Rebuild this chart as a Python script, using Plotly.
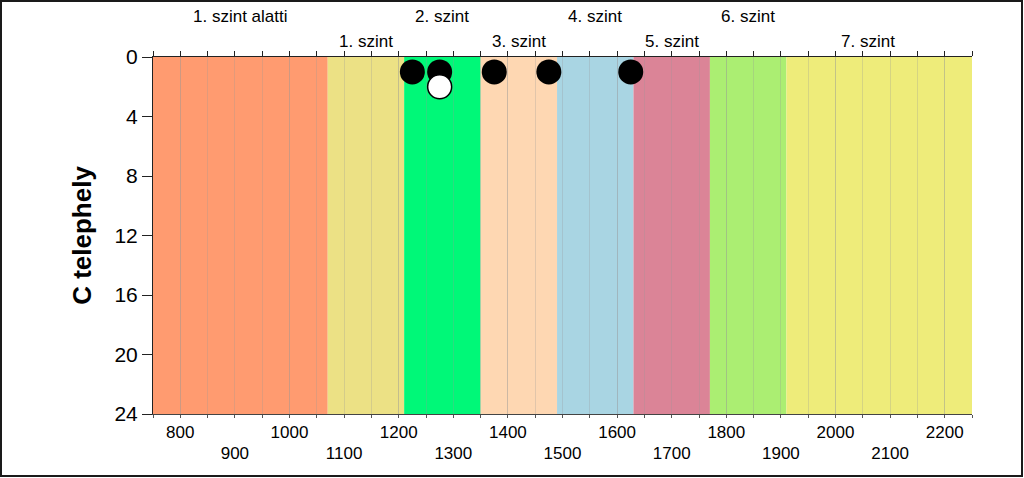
import plotly.graph_objects as go

# ---- data ----
band_edges = [750, 1070, 1210, 1350, 1490, 1630, 1770, 1910, 2250]
band_labels = ["1. szint alatti", "1. szint", "2. szint", "3. szint",
               "4. szint", "5. szint", "6. szint", "7. szint"]
band_label_x = [910, 1140, 1280, 1420, 1560, 1700, 1840, 2060]
band_colors = ["#FF9B70", "#ECE185", "#00F878", "#FED7B2",
               "#A9D5E3", "#DB8497", "#ABEE72", "#EEEC7A"]

black_x = [1225, 1275, 1375, 1475, 1625]
black_y = [1, 1, 1, 1, 1]
white_x = [1275]
white_y = [2]

x_range = [750, 2250]
y_range = [24, 0]
ticks_row1 = [800, 1000, 1200, 1400, 1600, 1800, 2000, 2200]
ticks_row2 = [900, 1100, 1300, 1500, 1700, 1900, 2100]
y_ticks = [0, 4, 8, 12, 16, 20, 24]
y_title = "C telephely"

FONT = "Liberation Sans, Arial, sans-serif"

fig = go.Figure()

# bands
for i, col in enumerate(band_colors):
    fig.add_shape(type="rect", xref="x", yref="y",
                  x0=band_edges[i], x1=band_edges[i + 1],
                  y0=y_range[0], y1=y_range[1],
                  fillcolor=col, line_width=0, layer="below")

fig.add_trace(go.Scatter(x=black_x, y=black_y, mode="markers",
                         marker=dict(size=25, color="black",
                                     line=dict(width=0)),
                         showlegend=False, hoverinfo="skip"))
fig.add_trace(go.Scatter(x=white_x, y=white_y, mode="markers",
                         marker=dict(size=24, color="white",
                                     line=dict(width=1.5, color="black")),
                         showlegend=False, hoverinfo="skip"))

# top band labels
for i, (lab, lx) in enumerate(zip(band_labels, band_label_x)):
    fig.add_annotation(x=lx, xref="x", y=1.1148 if i % 2 == 0 else 1.0448,
                       yref="paper", text=lab, showarrow=False,
                       xanchor="center", yanchor="middle",
                       font=dict(size=17, color="black", family=FONT))

# outer frame
fig.add_shape(type="rect", xref="paper", yref="paper",
              x0=(1 - 153) / 819, x1=(1022 - 153) / 819,
              y0=(414 - 476) / 357, y1=(414 - 1) / 357,
              line=dict(color="#1a1a1a", width=2), fillcolor="rgba(0,0,0,0)")

grid_col = "rgba(150,150,150,0.28)"

fig.update_layout(
    width=1024, height=478,
    margin=dict(l=153, r=52, t=57, b=64),
    paper_bgcolor="white", plot_bgcolor="white",
    font=dict(family=FONT, color="black"),
    showlegend=False,
    xaxis=dict(range=x_range, tickvals=ticks_row1,
               ticktext=[str(v) for v in ticks_row1],
               ticks="outside", ticklen=3, tickcolor="#555",
               showline=True, linecolor="#444", linewidth=1,
               showgrid=True, gridcolor=grid_col, gridwidth=1,
               minor=dict(dtick=50, tick0=750, ticks="outside", ticklen=3,
                          tickcolor="#555", showgrid=True,
                          gridcolor=grid_col, gridwidth=1),
               tickfont=dict(size=17), zeroline=False),
    xaxis3=dict(range=x_range, overlaying="x", side="bottom", anchor="y",
                tickvals=ticks_row2, ticktext=[str(v) for v in ticks_row2],
                ticks="", showgrid=False, showline=False, zeroline=False,
                ticklabelstandoff=27, tickfont=dict(size=17)),
    xaxis2=dict(range=x_range, overlaying="x", side="top", anchor="y",
                dtick=50, tick0=750, ticks="outside", ticklen=5,
                tickcolor="#222", showticklabels=False,
                showline=True, linecolor="#222", linewidth=1,
                showgrid=False, zeroline=False),
    yaxis=dict(range=y_range, tickvals=y_ticks, ticks="outside",
               ticklen=10, tickcolor="#222", showline=True,
               linecolor="#222", linewidth=1, showgrid=False,
               zeroline=False, tickfont=dict(size=21),
               title=dict(text="<b>" + y_title + "</b>",
                          font=dict(size=26), standoff=15)),
)

# dummy traces so overlay axes render
fig.add_trace(go.Scatter(x=[None], y=[None], xaxis="x2", showlegend=False))
fig.add_trace(go.Scatter(x=[None], y=[None], xaxis="x3", showlegend=False))

fig.write_html("out.html")
